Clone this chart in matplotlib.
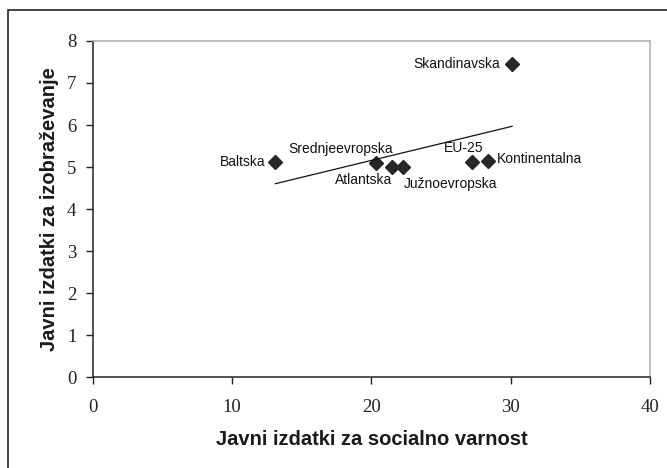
import matplotlib
matplotlib.use('Agg')
import matplotlib.pyplot as plt
from matplotlib.patches import Rectangle
import numpy as np

# Regions: social security spending (x) vs education spending (y)
regions = ['Baltska', 'Srednjeevropska', 'Atlantska', 'Južnoevropska',
           'EU-25', 'Kontinentalna', 'Skandinavska']
social = [13.1, 20.3, 21.5, 22.3, 27.2, 28.4, 30.1]
education = [5.12, 5.10, 5.00, 5.00, 5.12, 5.15, 7.45]

# label offsets in points (dx, dy, ha, va)
label_pos = {
    'Baltska': (-7, 0, 'right', 'center'),
    'Srednjeevropska': (-25, 10, 'center', 'center'),
    'Atlantska': (0, -9, 'right', 'center'),
    'Južnoevropska': (0, -12, 'left', 'center'),
    'EU-25': (-6, 10, 'center', 'center'),
    'Kontinentalna': (6, 1, 'left', 'center'),
    'Skandinavska': (-9, 0, 'right', 'center'),
}

fig = plt.figure(figsize=(6.67, 4.68), dpi=100)
ax = fig.add_axes([0.1394, 0.1944, 0.835, 0.718])

# outer frame around the whole chart
fig.patches.append(Rectangle((7.5 / 667, -0.1), 1.2, 1.1 - 10.5 / 468,
                             transform=fig.transFigure, fill=False,
                             edgecolor='#222222', linewidth=1.2))

ax.plot(social, education, linestyle='none', marker='D', markersize=7,
        color='#262626')

# linear trend
k, n = np.polyfit(social, education, 1)
xs = np.array([min(social), max(social)])
ax.plot(xs, k * xs + n, color='#111111', linewidth=0.9)

for name, x, y in zip(regions, social, education):
    dx, dy, ha, va = label_pos[name]
    ax.annotate(name, (x, y), xytext=(dx, dy), textcoords='offset points',
                ha=ha, va=va, fontsize=10, family='Liberation Sans',
                color='#111111')

ax.set_xlim(0, 40)
ax.set_ylim(0, 8)
ax.set_xticks([0, 10, 20, 30, 40])
ax.set_yticks(range(0, 9))
for lab in ax.get_xticklabels() + ax.get_yticklabels():
    lab.set_family('Liberation Serif')
    lab.set_fontsize(13.5)
    lab.set_color('#222222')
ax.tick_params(axis='x', direction='out', length=5, width=1, pad=11,
               color='#222222')
ax.tick_params(axis='y', direction='out', length=5, width=1, pad=7,
               color='#222222')

for side in ['top', 'right']:
    ax.spines[side].set_color('#b5b5b5')
    ax.spines[side].set_linewidth(1.2)
for side in ['left', 'bottom']:
    ax.spines[side].set_color('#222222')
    ax.spines[side].set_linewidth(1.1)

ax.set_xlabel('Javni izdatki za socialno varnost', family='Liberation Sans',
              fontweight='bold', fontsize=14.5, labelpad=10, color='#1a1a1a')
ax.set_ylabel('Javni izdatki za izobraževanje', family='Liberation Sans',
              fontweight='bold', fontsize=14.5, labelpad=6, color='#1a1a1a')

fig.savefig('out.png', dpi=100)
